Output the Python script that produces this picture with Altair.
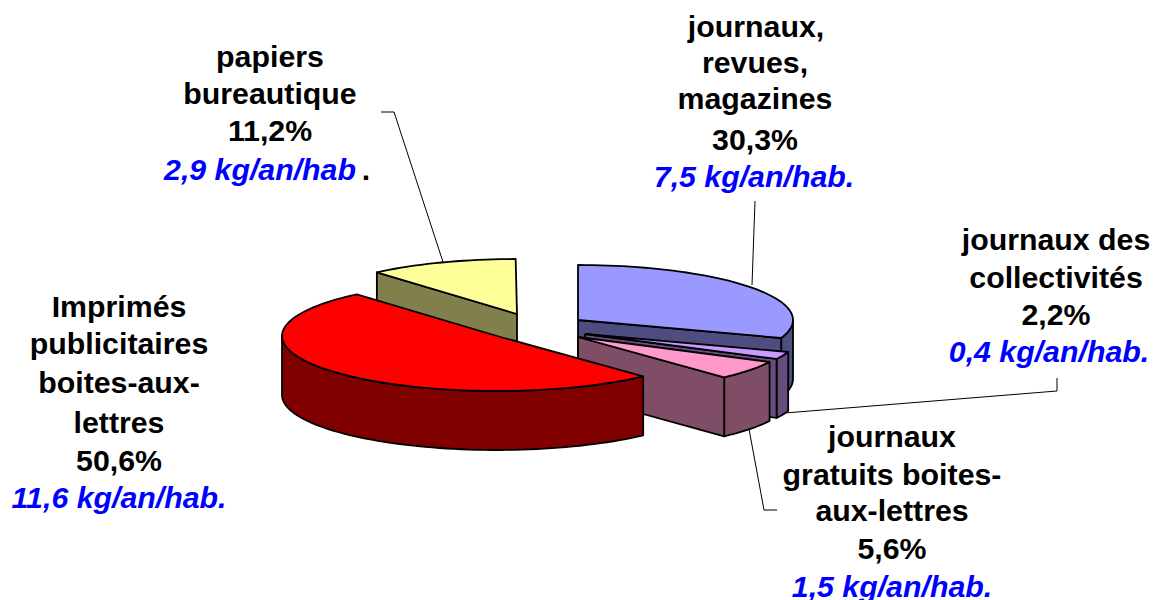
import math
import altair as alt
import pandas as pd

# Chart values
categories = ["journaux, revues, magazines", "journaux des collectivités",
              "journaux gratuits boites-aux-lettres",
              "Imprimés publicitaires boites-aux-lettres", "papiers bureautique"]
shares = [30.3, 2.2, 5.6, 50.6, 11.2]
top_colors = ["#9999FF", "#CC99FF", "#FF99CC", "#FF0000", "#FFFF99"]
side_colors = ["#4D4D80", "#664D80", "#804D66", "#800000", "#80804D"]
# Exploded slice centres
centres_x = [578, 585, 578, 497, 517]
centres_y = [320, 334, 337, 336, 314]
RX, RY, DEPTH = 215, 55, 59

black_text = ["papiers", "bureautique", "11,2%", ".",
              "journaux,", "revues,", "magazines", "30,3%",
              "journaux des", "collectivités", "2,2%",
              "Imprimés", "publicitaires", "boites-aux-", "lettres", "50,6%",
              "journaux", "gratuits boites-", "aux-lettres", "5,6%"]
black_x = [270, 270, 270, 366, 756, 755, 755, 755, 1056, 1056, 1056,
           119, 119, 119, 119, 119, 892, 892, 892, 892]
black_y = [58, 95, 132, 171, 28, 64, 100, 141, 241, 279, 316,
           308, 345, 384, 424, 462, 438, 476, 512, 550]
blue_text = ["2,9 kg/an/hab", "7,5 kg/an/hab.", "0,4 kg/an/hab.", "11,6 kg/an/hab.", "1,5 kg/an/hab."]
blue_x = [260, 754, 1049, 119, 892]
blue_y = [171, 178, 353, 499, 588]

leader_x = [[381, 394, 443], [755, 752], [1057, 1057, 785], [777, 764, 749]]
leader_y = [[112, 112, 262], [201, 285], [378, 391, 413], [510, 510, 429]]

W, H = 1143, 592
xs = alt.Scale(domain=[8, 8 + W], range=[0, W], nice=False, zero=False)
ys = alt.Scale(domain=[8, 8 + H], range=[0, H], nice=False, zero=False)
X = alt.X("x:Q", scale=xs, axis=None)
Y = alt.Y("y:Q", scale=ys, axis=None)

angles = []
a = 0.0
for s in shares:
    angles.append((a, a + s * 3.6))
    a += s * 3.6


def rim(i, deg, drop=0):
    t = math.radians(deg)
    return (centres_x[i] + RX * math.sin(t), centres_y[i] - RY * math.cos(t) + drop)


def arc(i, d1, d2, drop=0):
    n = max(2, int(abs(d2 - d1) / 2) + 1)
    return [rim(i, d1 + (d2 - d1) * k / (n - 1), drop) for k in range(n)]


def polygon(pts, fill):
    pts = list(pts) + [pts[0]]
    df = pd.DataFrame({"x": [p[0] for p in pts], "y": [p[1] for p in pts], "k": range(len(pts))})
    return alt.Chart(df).mark_line(fill=fill, stroke="black", strokeWidth=1.8, strokeJoin="round").encode(
        x=X, y=Y, order="k:Q")


def radial_wall(i, deg):
    c = (centres_x[i], centres_y[i])
    c2 = (c[0], c[1] + DEPTH)
    return [c, rim(i, deg), rim(i, deg, DEPTH), c2]


def top(i):
    c = (centres_x[i], centres_y[i])
    return [c] + arc(i, *angles[i])


def outer(i, d1, d2):
    return arc(i, d1, d2) + arc(i, d2, d1, DEPTH)


layers = []
for lx, ly in zip(leader_x, leader_y):
    df = pd.DataFrame({"x": lx, "y": ly, "k": range(len(lx))})
    layers.append(alt.Chart(df).mark_line(color="black", strokeWidth=1).encode(x=X, y=Y, order="k:Q"))

# papiers
i = 4
layers += [polygon(radial_wall(i, angles[i][0]), side_colors[i]), polygon(top(i), top_colors[i])]
# journaux / revues
i = 0
layers += [polygon(outer(i, 90, angles[i][1]), side_colors[i]),
           polygon(radial_wall(i, angles[i][1]), side_colors[i]), polygon(top(i), top_colors[i])]
# collectivités and gratuits
for i in (1, 2):
    layers += [polygon(outer(i, *angles[i]), side_colors[i]),
               polygon(radial_wall(i, angles[i][1]), side_colors[i]), polygon(top(i), top_colors[i])]
# imprimés
i = 3
layers += [polygon(outer(i, angles[i][0], 270), side_colors[i]), polygon(top(i), top_colors[i])]

FONT = "Liberation Sans"
SIZE = 30.3
layers.append(alt.Chart(pd.DataFrame({"x": black_x, "y": black_y, "t": black_text})).mark_text(
    font=FONT, fontSize=SIZE, fontWeight="bold", color="black", align="center", baseline="middle"
).encode(x=X, y=Y, text="t:N"))
layers.append(alt.Chart(pd.DataFrame({"x": blue_x, "y": blue_y, "t": blue_text})).mark_text(
    font=FONT, fontSize=SIZE, fontWeight="bold", fontStyle="italic", color="#0000FF", align="center", baseline="middle"
).encode(x=X, y=Y, text="t:N"))

chart = alt.layer(*layers).properties(width=W, height=H, padding=0,
    autosize=alt.AutoSizeParams(type="none")).configure_view(stroke=None)
chart.save("out.html", embed_options={"renderer": "svg", "actions": False})
